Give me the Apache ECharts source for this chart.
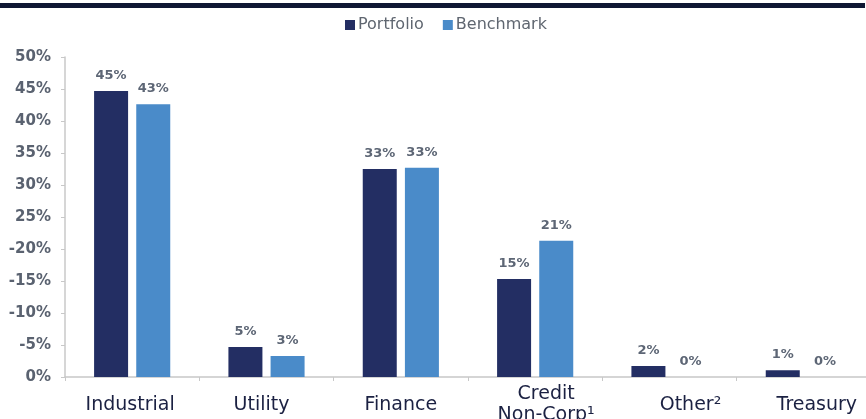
<!DOCTYPE html>
<html>
<head>
<meta charset="utf-8">
<script src="https://cdn.jsdelivr.net/npm/echarts@6/dist/echarts.min.js"></script>
<style>
  html, body { margin: 0; padding: 0; background: #fff; }
  #main { width: 866px; height: 419px; }
</style>
</head>
<body>
<div id="main"></div>
<script>
// sector weights
var categories = ['Industrial', 'Utility', 'Finance', 'Credit\nNon-Corp\u00b9', 'Other\u00b2', 'Treasury'];
var portfolio = [44.7, 4.7, 32.5, 15.3, 1.7, 1.05];
var benchmark = [42.6, 3.3, 32.7, 21.3, 0, 0];
// the source deck prints these y labels as-is (with stray minus signs)
var yTickLabels = ['0%', '-5%', '-10%', '-15%', '-20%', '25%', '30%', '35%', '40%', '45%', '50%'];

var labelStyle = {
    show: true,
    position: 'top',
    distance: 9,
    fontFamily: 'DejaVu Sans',
    fontWeight: 'bold',
    fontSize: 13,
    color: '#5d6675',
    formatter: function (p) {
        return Math.round(p.value) + '%';
    }
};

// category names in the deck sit a bit off-centre; nudge them (px)
var nudge = [-2, -5, 0, 11, 21, 13];
var xData = categories.map(function (c, i) {
    var n = nudge[i];
    return {
        value: c,
        // item textStyle doesn't inherit verticalAlign, so repeat it here
        textStyle: {
            verticalAlign: 'middle',
            padding: n >= 0 ? [0, 0, 0, 2 * n] : [0, -2 * n, 0, 0]
        }
    };
});

var chart = echarts.init(document.getElementById('main'));
chart.setOption({
    animation: false,
    graphic: [{
        // dark rule across the top of the slide
        type: 'rect',
        shape: { x: 0, y: 3, width: 865, height: 5 },
        style: { fill: '#0f1733' }
    }],
    legend: {
        top: 12,
        left: 340,
        itemWidth: 10,
        itemHeight: 10,
        itemGap: 19,
        icon: 'rect',
        textStyle: { fontFamily: 'DejaVu Sans', fontSize: 16, color: '#5f6670', padding: [0, 0, 0, -2] },
        data: ['Portfolio', 'Benchmark']
    },
    grid: { left: 65, right: -5, top: 57, bottom: 42, containLabel: false, outerBoundsMode: 'none' },
    xAxis: {
        type: 'category',
        data: xData,
        axisLine: { lineStyle: { color: '#c8c8c8', width: 1.5 } },
        axisTick: { show: true, length: 4, lineStyle: { color: '#c8c8c8' } },
        axisLabel: {
            interval: 0,
            margin: 28,
            verticalAlign: 'middle',
            lineHeight: 21,
            fontFamily: 'DejaVu Sans',
            fontSize: 19,
            color: '#1b2142'
        }
    },
    yAxis: {
        type: 'value',
        min: 0,
        max: 50,
        interval: 5,
        splitLine: { show: false },
        axisLine: { show: true, lineStyle: { color: '#c8c8c8', width: 1.5 } },
        axisTick: { show: true, length: 4, lineStyle: { color: '#c8c8c8' } },
        axisLabel: {
            margin: 14,
            fontFamily: 'DejaVu Sans',
            fontWeight: 'bold',
            fontSize: 15,
            color: '#5a6270',
            formatter: function (v) {
                return yTickLabels[Math.round(v / 5)];
            }
        }
    },
    series: [{
        name: 'Portfolio',
        type: 'bar',
        data: portfolio,
        barWidth: 34,
        barGap: '24%',
        itemStyle: { color: '#232e63' },
        label: labelStyle
    }, {
        name: 'Benchmark',
        type: 'bar',
        data: benchmark,
        barWidth: 34,
        itemStyle: { color: '#4a8bc9' },
        label: labelStyle
    }]
});
</script>
</body>
</html>
